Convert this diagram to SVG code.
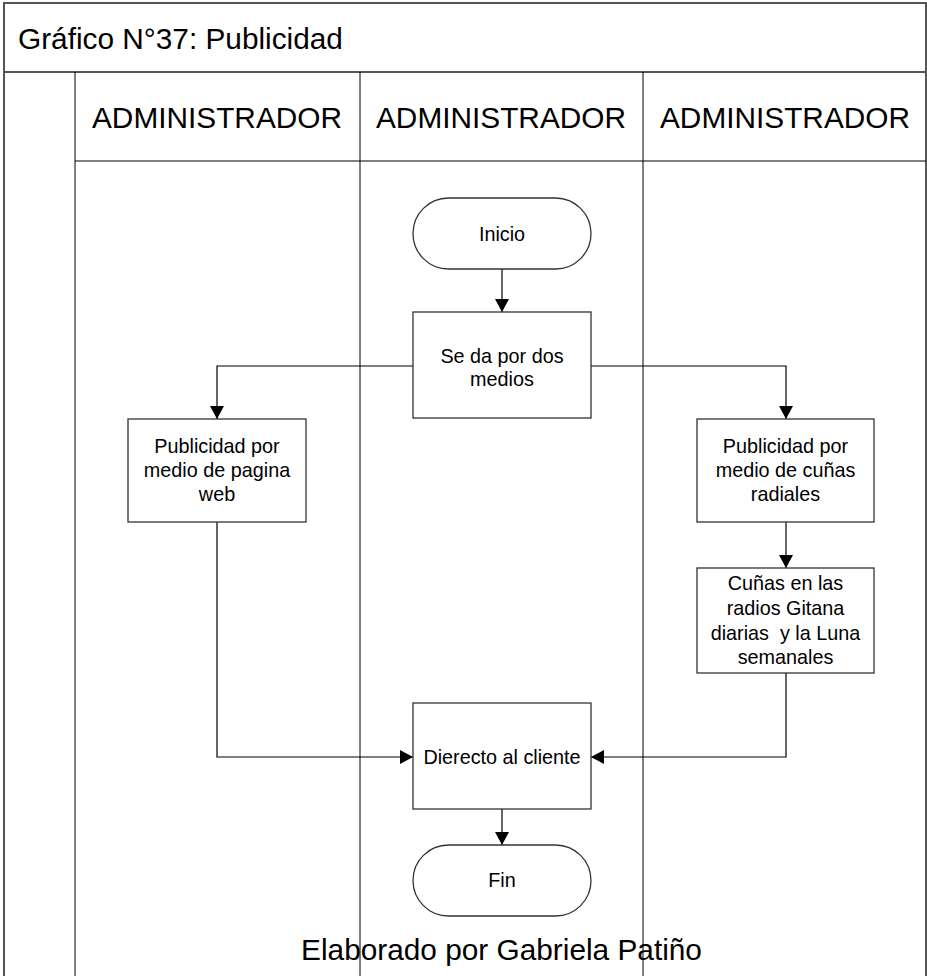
<svg xmlns="http://www.w3.org/2000/svg" width="927" height="976" viewBox="0 0 927 976">
  <style>
    .frame { fill: none; stroke: #555; stroke-width: 2; }
    .lane { fill: none; stroke: #000; stroke-width: 1; }
    .shape { fill: #fff; stroke: #333; stroke-width: 1.3; }
    .big { font-family: "Liberation Sans", Arial, sans-serif; font-size: 29.8px; fill: #000; }
    .lbl { font-family: "Liberation Sans", Arial, sans-serif; font-size: 19.8px; fill: #000; text-anchor: middle; }
    .conn { fill: none; stroke: #000; stroke-width: 1.2; marker-end: url(#arrow); }
  </style>
  <defs>
    <marker id="arrow" markerUnits="userSpaceOnUse" markerWidth="14" markerHeight="14" viewBox="0 0 14 14" refX="13" refY="7" orient="auto">
      <path d="M0,0 L13,7 L0,14 Z" fill="#000"/>
    </marker>
  </defs>

  <rect width="927" height="976" fill="#fff"/>

  <!-- pool frame, title band and swimlanes -->
  <g id="pool">
    <path class="frame" d="M4,980 V3 H926 V980"/>
    <line class="frame" x1="4" y1="72" x2="926" y2="72"/>
    <line class="lane" x1="75" y1="72" x2="75" y2="976" stroke-width="1.6"/>
    <line class="lane" x1="75" y1="161" x2="926" y2="161"/>
    <line class="lane" x1="360" y1="72" x2="360" y2="976"/>
    <line class="lane" x1="643" y1="72" x2="643" y2="976"/>
    <text class="big" x="18" y="49">Gráfico N°37: Publicidad</text>
    <text class="big" x="217" y="128" text-anchor="middle">ADMINISTRADOR</text>
    <text class="big" x="501" y="128" text-anchor="middle">ADMINISTRADOR</text>
    <text class="big" x="785" y="128" text-anchor="middle">ADMINISTRADOR</text>
  </g>

  <!-- connectors -->
  <g id="connectors">
    <path class="conn" d="M502,269 V312"/>
    <path class="conn" d="M413,366 H217 V419"/>
    <path class="conn" d="M591,366 H786 V419"/>
    <path class="conn" d="M786,522 V568"/>
    <path class="conn" d="M217,522 V757 H413"/>
    <path class="conn" d="M786,673 V757 H591"/>
    <path class="conn" d="M502,809 V845"/>
  </g>

  <g id="inicio">
    <rect class="shape" x="413" y="198" width="178" height="71" rx="35.5"/>
    <text class="lbl" x="502" y="241">Inicio</text>
  </g>

  <g id="medios">
    <rect class="shape" x="413" y="312" width="178" height="106"/>
    <text class="lbl" x="502" y="363">Se da por dos</text>
    <text class="lbl" x="502" y="386">medios</text>
  </g>

  <g id="web">
    <rect class="shape" x="128" y="419" width="178" height="103"/>
    <text class="lbl" x="217" y="453">Publicidad por</text>
    <text class="lbl" x="217" y="477">medio de pagina</text>
    <text class="lbl" x="217" y="501">web</text>
  </g>

  <g id="radio">
    <rect class="shape" x="697" y="419" width="177" height="103"/>
    <text class="lbl" x="785.5" y="453">Publicidad por</text>
    <text class="lbl" x="785.5" y="477">medio de cuñas</text>
    <text class="lbl" x="785.5" y="501">radiales</text>
  </g>

  <g id="cunas">
    <rect class="shape" x="697" y="568" width="177" height="105"/>
    <text class="lbl" x="785.5" y="590">Cuñas en las</text>
    <text class="lbl" x="785.5" y="615">radios Gitana</text>
    <text class="lbl" x="785.5" y="640" xml:space="preserve">diarias  y la Luna</text>
    <text class="lbl" x="785.5" y="664">semanales</text>
  </g>

  <g id="directo">
    <rect class="shape" x="413" y="703" width="178" height="106"/>
    <text class="lbl" x="502" y="764">Dierecto al cliente</text>
  </g>

  <g id="fin">
    <rect class="shape" x="413" y="845" width="178" height="71" rx="35.5"/>
    <text class="lbl" x="502" y="887">Fin</text>
  </g>

  <text class="big" x="501.5" y="960" text-anchor="middle">Elaborado por Gabriela Patiño</text>
</svg>
